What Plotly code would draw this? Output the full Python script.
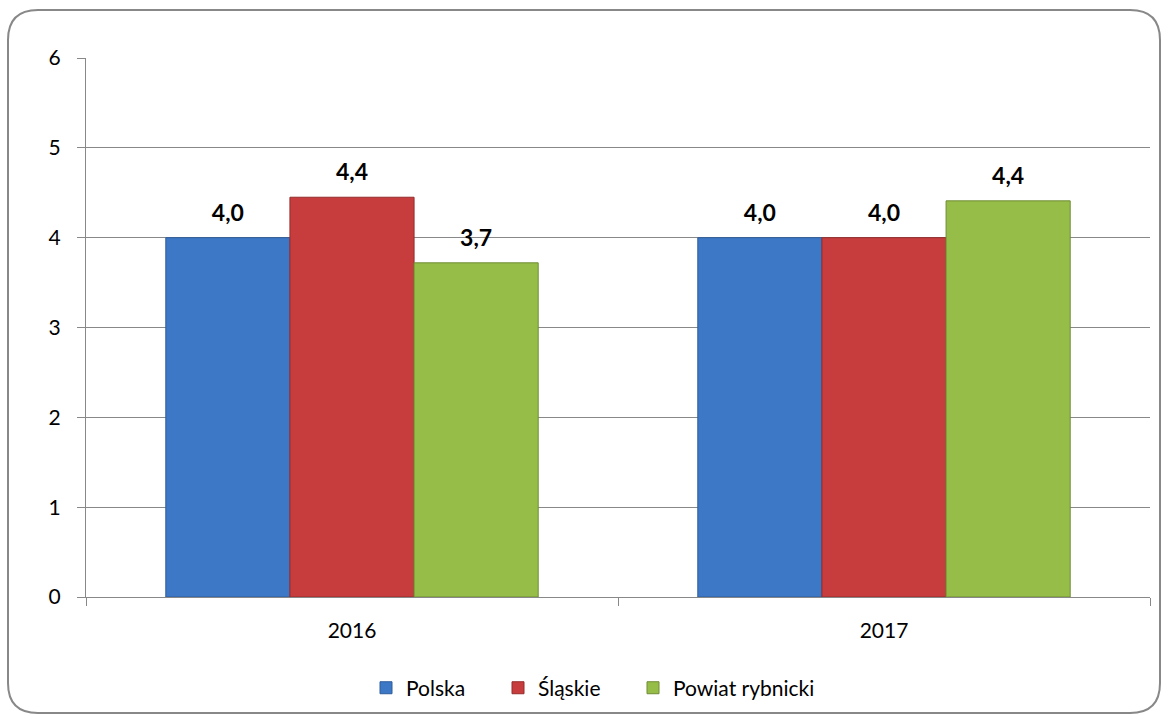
import plotly.graph_objects as go

years = ["2016", "2017"]
series_names = ["Polska", "Śląskie", "Powiat rybnicki"]
polska = [4.0, 4.0]
slaskie = [4.45, 4.0]
rybnicki = [3.72, 4.41]
label_polska = ["4,0", "4,0"]
label_slaskie = ["4,4", "4,0"]
label_rybnicki = ["3,7", "4,4"]
colors = ["#3D78C6", "#C73D3D", "#97BD49"]
line_colors = ["#2F5C9A", "#952C2C", "#6F8D33"]
legend_ids = ["legend", "legend2", "legend3"]

FONT = "Lato"

W, H = 1166, 717
l, r, t, b = 86, 16, 58, 120
pw, ph = W - l - r, H - t - b

fig = go.Figure()
all_vals = [polska, slaskie, rybnicki]
all_labels = [label_polska, label_slaskie, label_rybnicki]
for i, (name, vals, c, lc) in enumerate(zip(series_names, all_vals, colors, line_colors)):
    fig.add_trace(go.Bar(
        x=years, y=vals, name=name, offsetgroup=str(i), legend=legend_ids[i],
        marker=dict(color=c, line=dict(color=lc, width=1)),
        hoverinfo="skip",
    ))
for i, (vals, labels) in enumerate(zip(all_vals, all_labels)):
    fig.add_trace(go.Scatter(
        x=years, y=vals, mode="markers+text", text=labels, textposition="top center",
        offsetgroup=str(i), showlegend=False, hoverinfo="skip", cliponaxis=False,
        marker=dict(size=16, opacity=0),
        textfont=dict(family=FONT, size=23, color="black", weight="bold"),
    ))

legend_left_px = [366, 498, 633]
legend_common = dict(orientation="h", xanchor="left", y=-0.169, yanchor="middle",
                     font=dict(family=FONT, size=21), itemwidth=30,
                     bgcolor="rgba(0,0,0,0)")

fig.update_layout(
    width=W, height=H,
    margin=dict(l=l, r=r, t=t, b=b, autoexpand=False),
    paper_bgcolor="white", plot_bgcolor="white",
    barmode="group", bargap=0.3, bargroupgap=0,
    scattermode="group", scattergap=0.3,
    font=dict(family=FONT, size=21, color="black"),
    showlegend=True,
    legend=dict(x=(legend_left_px[0] - l) / pw, **legend_common),
    legend2=dict(x=(legend_left_px[1] - l) / pw, **legend_common),
    legend3=dict(x=(legend_left_px[2] - l) / pw, **legend_common),
    xaxis=dict(showline=True, linecolor="#888888", linewidth=1,
               ticks="outside", ticklen=8, tickcolor="#888888", tickson="boundaries",
               ticklabelstandoff=15, tickfont=dict(size=21)),
    yaxis=dict(range=[0, 6], dtick=1, showline=True, linecolor="#888888", linewidth=1,
               showgrid=True, gridcolor="#888888", gridwidth=1,
               ticks="outside", ticklen=8, tickcolor="#888888",
               ticklabelstandoff=12, tickfont=dict(size=21), zeroline=False),
)

# rounded outer border (pixel based, converted to paper coords)
def px(x): return (x - l) / pw
def py(y): return (H - b - y) / ph
x0, x1, y0, y1, rad = 8, 1160, 10, 713, 30
path = (f"M {px(x0+rad)},{py(y0)} L {px(x1-rad)},{py(y0)} "
        f"Q {px(x1)},{py(y0)} {px(x1)},{py(y0+rad)} L {px(x1)},{py(y1-rad)} "
        f"Q {px(x1)},{py(y1)} {px(x1-rad)},{py(y1)} L {px(x0+rad)},{py(y1)} "
        f"Q {px(x0)},{py(y1)} {px(x0)},{py(y1-rad)} L {px(x0)},{py(y0+rad)} "
        f"Q {px(x0)},{py(y0)} {px(x0+rad)},{py(y0)} Z")
fig.update_layout(shapes=[dict(type="path", xref="paper", yref="paper", path=path,
                               line=dict(color="#888888", width=2), layer="below")])

fig.write_html("out.html", config={"displayModeBar": False},
               post_script="document.body.style.margin='0';document.body.style.overflow='hidden';")
